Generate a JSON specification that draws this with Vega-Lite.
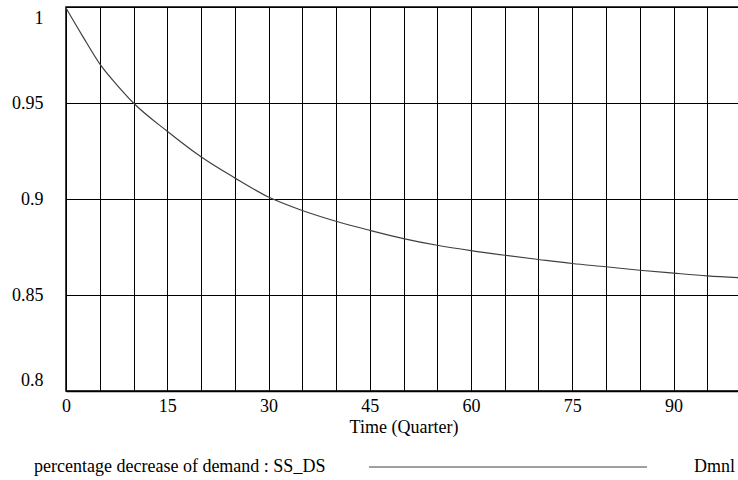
{
  "$schema": "https://vega.github.io/schema/vega-lite/v6.json",
  "autosize": "none",
  "width": 675,
  "height": 384,
  "padding": {"left": 66, "top": 7, "right": 0, "bottom": 89},
  "background": "white",
  "config": {
    "font": "'Liberation Serif', 'Times New Roman', serif",
    "view": {"stroke": "black", "strokeWidth": 1.5},
    "text": {"font": "'Liberation Serif', 'Times New Roman', serif"},
    "legend": {
      "labelFont": "'Liberation Serif', 'Times New Roman', serif",
      "titleFont": "'Liberation Serif', 'Times New Roman', serif"
    },
    "axis": {
      "labelFont": "'Liberation Serif', 'Times New Roman', serif",
      "titleFont": "'Liberation Serif', 'Times New Roman', serif",
      "labelFontSize": 18,
      "titleFontSize": 18,
      "labelColor": "black",
      "titleColor": "black",
      "titleFontWeight": "normal",
      "ticks": false,
      "gridColor": "black",
      "gridOpacity": 1,
      "gridWidth": 1,
      "domainColor": "black"
    }
  },
  "data": {
    "values": [
      {"t": 0, "v": 0.9995, "unit": "Dmnl"},
      {"t": 2.5, "v": 0.9846, "unit": "Dmnl"},
      {"t": 5, "v": 0.9704, "unit": "Dmnl"},
      {"t": 7.5, "v": 0.9596, "unit": "Dmnl"},
      {"t": 10, "v": 0.95, "unit": "Dmnl"},
      {"t": 15, "v": 0.9353, "unit": "Dmnl"},
      {"t": 20, "v": 0.922, "unit": "Dmnl"},
      {"t": 25, "v": 0.911, "unit": "Dmnl"},
      {"t": 30, "v": 0.901, "unit": "Dmnl"},
      {"t": 35, "v": 0.894, "unit": "Dmnl"},
      {"t": 40, "v": 0.8884, "unit": "Dmnl"},
      {"t": 45, "v": 0.8837, "unit": "Dmnl"},
      {"t": 50, "v": 0.8794, "unit": "Dmnl"},
      {"t": 55, "v": 0.8759, "unit": "Dmnl"},
      {"t": 60, "v": 0.8731, "unit": "Dmnl"},
      {"t": 65, "v": 0.8707, "unit": "Dmnl"},
      {"t": 70, "v": 0.8685, "unit": "Dmnl"},
      {"t": 75, "v": 0.8664, "unit": "Dmnl"},
      {"t": 80, "v": 0.8647, "unit": "Dmnl"},
      {"t": 85, "v": 0.8629, "unit": "Dmnl"},
      {"t": 90, "v": 0.8614, "unit": "Dmnl"},
      {"t": 95, "v": 0.86, "unit": "Dmnl"},
      {"t": 100, "v": 0.859, "unit": "Dmnl"}
    ]
  },
  "mark": {"type": "line", "interpolate": "monotone", "strokeWidth": 1.2},
  "encoding": {
    "x": {
      "field": "t",
      "type": "quantitative",
      "scale": {"domain": [0, 100], "nice": false, "zero": false},
      "axis": {
        "title": "Time (Quarter)",
        "values": [0, 5, 10, 15, 20, 25, 30, 35, 40, 45, 50, 55, 60, 65, 70, 75, 80, 85, 90, 95, 100],
        "labelExpr": "datum.value % 15 === 0 ? datum.label : ''",
        "labelPadding": 6,
        "labelFlush": false,
        "titlePadding": 3,
        "domainWidth": 1.5
      }
    },
    "y": {
      "field": "v",
      "type": "quantitative",
      "scale": {"domain": [0.8, 1], "nice": false, "zero": false},
      "axis": {
        "title": null,
        "values": [0.8, 0.85, 0.9, 0.95, 1],
        "format": "~g",
        "labelPadding": 23,
        "labelFlush": true,
        "labelFlushOffset": -2,
        "domain": false
      }
    },
    "color": {
      "field": "unit",
      "type": "nominal",
      "scale": {"range": ["#404040"]},
      "legend": {
        "orient": "none",
        "legendX": -32,
        "legendY": 451,
        "title": "percentage decrease of demand : SS_DS",
        "titleOrient": "left",
        "titleFontSize": 18,
        "titleFontWeight": "normal",
        "titleColor": "black",
        "titleLimit": 0,
        "titlePadding": 43,
        "titleBaseline": "middle",
        "labelFontSize": 18,
        "labelColor": "black",
        "symbolType": "M-69.5,0H69.5",
        "symbolSize": 16,
        "symbolStrokeWidth": 1,
        "symbolOffset": 130,
        "labelOffset": 177
      }
    }
  }
}
